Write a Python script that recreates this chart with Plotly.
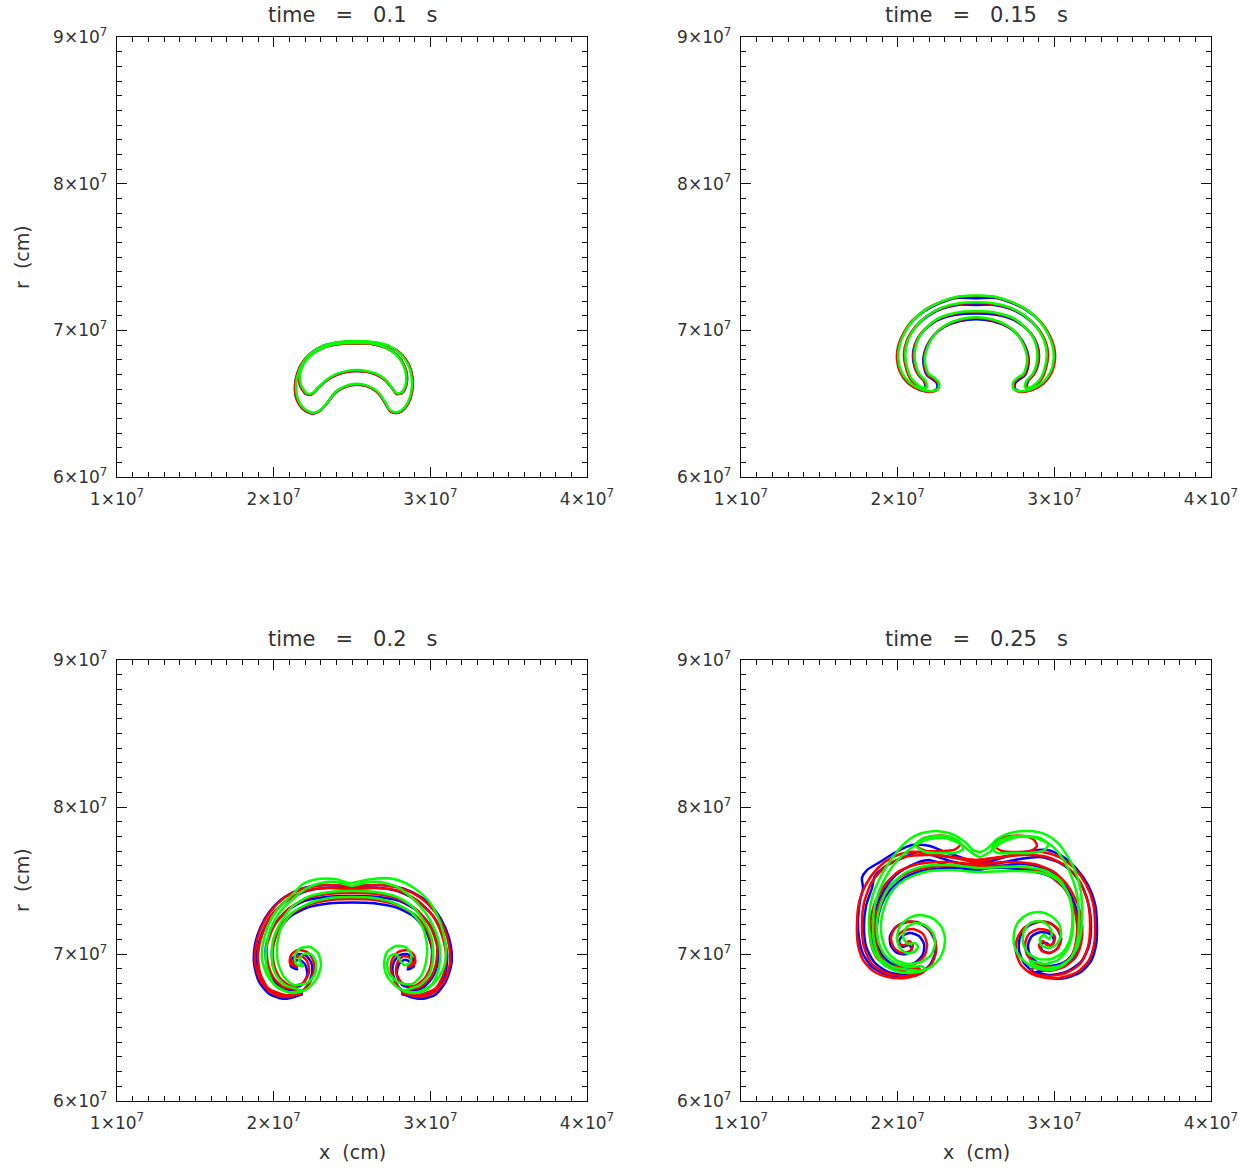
import plotly.graph_objects as go

UNIT = 1e7  # all coordinates below are in units of 1e7 cm
TIMES = ["0.1", "0.15", "0.2", "0.25"]
X_TICKS = [1, 2, 3, 4]
Y_TICKS = [6, 7, 8, 9]
X_RANGE = [1, 4]
Y_RANGE = [6, 9]

# ---------------- panel 1 : t = 0.1 s ----------------
P1_RED_C1 = [(2.206,6.566),(2.168,6.627),(2.162,6.695),(2.187,6.771),(2.245,6.839),(2.328,6.886),(2.423,6.907),
             (2.526,6.910),(2.628,6.907),(2.717,6.880),(2.787,6.832),(2.832,6.764),(2.851,6.689),(2.845,6.620),
             (2.819,6.573),(2.787,6.566),(2.755,6.607),(2.711,6.661),(2.647,6.702),(2.583,6.719),(2.526,6.723),
             (2.462,6.716),(2.398,6.695),(2.334,6.655),(2.283,6.607),(2.245,6.566)]
P1_RED_C2 = [(2.232,6.436),(2.181,6.470),(2.149,6.525),(2.136,6.593),(2.143,6.675),(2.174,6.764),(2.232,6.839),
             (2.315,6.893),(2.417,6.917),(2.526,6.924),(2.634,6.917),(2.736,6.893),(2.813,6.839),(2.864,6.764),
             (2.886,6.675),(2.883,6.580),(2.857,6.498),(2.819,6.450),(2.781,6.436),(2.743,6.450),(2.711,6.505),
             (2.672,6.566),(2.621,6.607),(2.564,6.627),(2.500,6.627),(2.443,6.607),(2.391,6.573),(2.347,6.511),
             (2.302,6.457),(2.264,6.436)]
P1_GREEN_C1 = [(2.212,6.570),(2.174,6.630),(2.168,6.697),(2.192,6.772),(2.249,6.840),(2.330,6.888),(2.424,6.910),
               (2.526,6.913),(2.627,6.910),(2.715,6.882),(2.783,6.833),(2.827,6.765),(2.846,6.690),(2.840,6.622),
               (2.815,6.577),(2.785,6.572),(2.753,6.612),(2.710,6.667),(2.647,6.708),(2.583,6.725),(2.526,6.729),
               (2.462,6.722),(2.398,6.701),(2.336,6.661),(2.286,6.612),(2.249,6.572)]
P1_GREEN_C2 = [(2.236,6.441),(2.187,6.474),(2.156,6.528),(2.143,6.595),(2.149,6.676),(2.179,6.765),(2.236,6.840),
               (2.318,6.895),(2.418,6.920),(2.526,6.927),(2.633,6.920),(2.734,6.895),(2.809,6.840),(2.859,6.765),
               (2.881,6.676),(2.878,6.582),(2.853,6.502),(2.816,6.455),(2.779,6.441),(2.743,6.456),(2.712,6.510),
               (2.674,6.571),(2.622,6.612),(2.564,6.633),(2.500,6.633),(2.443,6.613),(2.392,6.578),(2.349,6.516),
               (2.305,6.462),(2.268,6.441)]

# ---------------- panel 2 : t = 0.15 s ----------------
P2_RED_C1 = [(2.143,6.607),(2.085,6.661),(2.053,6.743),(2.040,6.839),(2.060,6.934),(2.111,7.023),(2.187,7.098),
             (2.283,7.152),(2.391,7.180),(2.500,7.186),(2.608,7.180),(2.717,7.152),(2.813,7.098),(2.889,7.023),
             (2.940,6.934),(2.960,6.839),(2.947,6.743),(2.915,6.661),(2.857,6.607),(2.819,6.607),(2.826,6.648),
             (2.870,6.702),(2.896,6.784),(2.896,6.866),(2.870,6.948),(2.819,7.016),(2.743,7.077),(2.628,7.115),
             (2.500,7.125),(2.372,7.115),(2.257,7.077),(2.181,7.016),(2.130,6.948),(2.104,6.866),(2.104,6.784),
             (2.130,6.702),(2.174,6.648),(2.181,6.607)]
P2_RED_C2 = [(2.219,6.580),(2.143,6.593),(2.066,6.641),(2.015,6.716),(1.996,6.798),(2.002,6.886),(2.034,6.975),
             (2.091,7.064),(2.174,7.139),(2.277,7.193),(2.385,7.227),(2.500,7.234),(2.615,7.227),(2.723,7.193),
             (2.826,7.139),(2.908,7.064),(2.966,6.975),(2.998,6.886),(3.004,6.798),(2.985,6.716),(2.934,6.641),
             (2.857,6.593),(2.781,6.580),(2.743,6.600),(2.743,6.641),(2.774,6.675),(2.806,6.695),(2.826,6.743),
             (2.832,6.811),(2.813,6.886),(2.768,6.968),(2.698,7.030),(2.602,7.071),(2.500,7.084),(2.398,7.071),
             (2.302,7.030),(2.232,6.968),(2.187,6.886),(2.168,6.811),(2.174,6.743),(2.194,6.695),(2.225,6.675),
             (2.257,6.641),(2.257,6.600)]
P2_BLUE_C1 = [(2.143,6.607),(2.088,6.661),(2.056,6.743),(2.044,6.839),(2.063,6.934),(2.113,7.023),(2.189,7.095),
              (2.284,7.148),(2.391,7.175),(2.500,7.172),(2.608,7.175),(2.716,7.148),(2.811,7.095),(2.887,7.023),
              (2.937,6.934),(2.956,6.839),(2.944,6.743),(2.912,6.661),(2.857,6.607),(2.823,6.612),(2.833,6.655),
              (2.874,6.706),(2.899,6.784),(2.899,6.866),(2.873,6.944),(2.821,7.010),(2.744,7.070),(2.628,7.106),
              (2.500,7.115),(2.372,7.106),(2.256,7.070),(2.179,7.010),(2.127,6.944),(2.101,6.866),(2.101,6.784),
              (2.126,6.706),(2.167,6.655),(2.177,6.612)]
P2_BLUE_C2 = [(2.219,6.582),(2.143,6.595),(2.068,6.641),(2.018,6.716),(2.000,6.798),(2.005,6.886),(2.037,6.975),
              (2.093,7.062),(2.176,7.136),(2.278,7.190),(2.386,7.222),(2.500,7.218),(2.614,7.222),(2.722,7.190),
              (2.824,7.136),(2.907,7.062),(2.963,6.975),(2.995,6.886),(3.000,6.798),(2.982,6.716),(2.932,6.641),
              (2.857,6.595),(2.781,6.582),(2.748,6.603),(2.750,6.640),(2.782,6.670),(2.812,6.692),(2.831,6.743),
              (2.836,6.811),(2.817,6.886),(2.771,6.965),(2.700,7.025),(2.602,7.064),(2.500,7.076),(2.398,7.064),
              (2.300,7.025),(2.229,6.965),(2.183,6.886),(2.164,6.811),(2.169,6.743),(2.188,6.692),(2.218,6.670),
              (2.250,6.640),(2.252,6.603)]
P2_GREEN_C1 = [(2.150,6.612),(2.093,6.664),(2.061,6.745),(2.048,6.840),(2.067,6.936),(2.117,7.026),(2.191,7.101),
               (2.285,7.156),(2.392,7.185),(2.500,7.191),(2.608,7.185),(2.715,7.156),(2.809,7.101),(2.883,7.026),
               (2.933,6.936),(2.952,6.840),(2.939,6.745),(2.907,6.664),(2.850,6.612),(2.813,6.612),(2.820,6.652),
               (2.863,6.705),(2.889,6.786),(2.889,6.867),(2.865,6.950),(2.815,7.019),(2.741,7.081),(2.627,7.120),
               (2.500,7.130),(2.373,7.120),(2.259,7.081),(2.185,7.019),(2.135,6.950),(2.111,6.867),(2.111,6.786),
               (2.137,6.705),(2.180,6.652),(2.187,6.612)]
P2_GREEN_C2 = [(2.225,6.585),(2.150,6.598),(2.074,6.645),(2.024,6.718),(2.005,6.799),(2.010,6.887),(2.041,6.977),
               (2.097,7.066),(2.178,7.141),(2.279,7.196),(2.386,7.230),(2.500,7.238),(2.614,7.230),(2.721,7.196),
               (2.822,7.141),(2.903,7.066),(2.959,6.977),(2.990,6.887),(2.995,6.799),(2.976,6.718),(2.926,6.645),
               (2.850,6.598),(2.775,6.585),(2.737,6.605),(2.737,6.645),(2.768,6.679),(2.800,6.700),(2.819,6.747),
               (2.826,6.813),(2.808,6.889),(2.764,6.972),(2.696,7.035),(2.601,7.076),(2.500,7.089),(2.399,7.076),
               (2.304,7.035),(2.236,6.972),(2.192,6.889),(2.174,6.813),(2.181,6.747),(2.200,6.700),(2.232,6.679),
               (2.263,6.645),(2.263,6.605)]

# ---------------- panel 3 : t = 0.2 s ----------------
P3_RED_A = [(2.500,7.374),(2.360,7.367),(2.219,7.333),(2.104,7.265),(2.028,7.163),(1.996,7.041),(2.002,6.925),
            (2.040,6.837),(2.111,6.782),(2.187,6.803),(2.226,6.878),(2.213,6.952),(2.174,6.986),(2.136,6.973),
            (2.123,6.939),(2.149,6.912),
            (2.104,6.939),(2.111,6.993),(2.155,7.027),(2.213,7.014),(2.251,6.959),(2.257,6.884),(2.226,6.796),
            (2.155,6.728),(2.066,6.707),(1.977,6.741),(1.913,6.823),(1.881,6.939),(1.887,7.061),(1.919,7.177),
            (1.977,7.286),(2.066,7.381),(2.181,7.442),(2.328,7.469),(2.500,7.463),(2.679,7.469),(2.826,7.442),
            (2.940,7.381),(3.030,7.286),(3.087,7.177),(3.119,7.061),(3.126,6.939),(3.094,6.823),(3.030,6.741),
            (2.940,6.707),(2.851,6.728),(2.781,6.796),(2.749,6.884),(2.755,6.959),(2.794,7.014),(2.851,7.027),
            (2.896,6.993),(2.902,6.939),(2.857,6.912),
            (2.883,6.939),(2.870,6.973),(2.832,6.986),(2.794,6.952),(2.781,6.878),(2.819,6.803),(2.896,6.782),
            (2.966,6.837),(3.004,6.925),(3.011,7.041),(2.979,7.163),(2.902,7.265),(2.787,7.333),(2.647,7.367)]
P3_RED_B = [(2.500,7.415),(2.347,7.408),(2.200,7.374),(2.085,7.299),(2.002,7.190),(1.957,7.054),(1.964,6.932),
            (1.996,6.844),(2.060,6.776),(2.143,6.755),
            (2.181,6.735),(2.072,6.721),(1.964,6.769),(1.913,6.871),(1.900,6.993),(1.926,7.129),(1.983,7.259),
            (2.079,7.361),(2.200,7.429),(2.347,7.449),(2.500,7.442),(2.653,7.449),(2.800,7.429),(2.921,7.361),
            (3.017,7.259),(3.074,7.129),(3.100,6.993),(3.087,6.871),(3.036,6.769),(2.928,6.721),(2.819,6.735),
            (2.857,6.755),(2.940,6.776),(3.004,6.844),(3.036,6.932),(3.043,7.054),(2.998,7.190),(2.915,7.299),
            (2.800,7.374),(2.653,7.408)]
P3_BLUE_A = [(2.500,7.350),(2.360,7.345),(2.215,7.315),(2.100,7.250),(2.025,7.150),(1.990,7.035),(1.995,6.920),
             (2.035,6.830),(2.105,6.775),(2.180,6.790),(2.215,6.860),(2.200,6.930),(2.165,6.960),(2.135,6.950),
             (2.125,6.915),(2.150,6.895),
             (2.110,6.915),(2.115,6.965),(2.155,7.000),(2.205,6.990),(2.240,6.940),(2.245,6.870),(2.215,6.785),
             (2.150,6.715),(2.060,6.695),(1.970,6.730),(1.905,6.815),(1.875,6.935),(1.880,7.060),(1.915,7.180),
             (1.975,7.290),(2.065,7.385),(2.180,7.445),(2.330,7.470),(2.500,7.460),(2.680,7.470),(2.830,7.445),
             (2.945,7.385),(3.035,7.290),(3.095,7.180),(3.130,7.060),(3.135,6.935),(3.100,6.815),(3.035,6.725),
             (2.945,6.695),(2.855,6.715),(2.790,6.785),(2.760,6.870),(2.765,6.940),(2.800,6.990),(2.850,7.000),
             (2.890,6.965),(2.895,6.915),(2.855,6.895),
             (2.875,6.915),(2.865,6.950),(2.835,6.960),(2.800,6.930),(2.785,6.860),(2.820,6.790),(2.895,6.775),
             (2.965,6.830),(3.005,6.920),(3.010,7.035),(2.975,7.150),(2.900,7.250),(2.785,7.315),(2.640,7.345)]
P3_BLUE_B = [(2.500,7.395),(2.345,7.390),(2.195,7.360),(2.080,7.290),(1.995,7.185),(1.950,7.050),(1.955,6.925),
             (1.990,6.835),(2.055,6.765),(2.140,6.745),
             (2.180,6.725),(2.065,6.710),(1.955,6.760),(1.905,6.865),(1.892,6.990),(1.920,7.125),(1.980,7.255),
             (2.075,7.355),(2.200,7.425),(2.350,7.450),(2.500,7.445),(2.650,7.450),(2.800,7.425),(2.925,7.355),
             (3.020,7.255),(3.080,7.125),(3.108,6.990),(3.095,6.865),(3.045,6.760),(2.935,6.710),(2.820,6.725),
             (2.860,6.745),(2.945,6.765),(3.010,6.835),(3.045,6.925),(3.050,7.050),(3.005,7.185),(2.920,7.290),
             (2.805,7.360),(2.655,7.390)]
P3_GREEN_A = [(2.500,7.388),(2.360,7.381),(2.232,7.347),(2.117,7.279),(2.047,7.177),(2.021,7.054),(2.028,6.939),
              (2.066,6.844),(2.130,6.789),(2.213,6.803),(2.264,6.864),(2.270,6.946),(2.238,7.000),(2.187,7.000),
              (2.162,6.959),(2.187,6.918),
              (2.143,6.932),(2.136,6.993),(2.174,7.041),(2.232,7.048),(2.283,7.007),(2.302,6.925),(2.277,6.837),
              (2.213,6.762),(2.117,6.735),(2.028,6.769),(1.964,6.844),(1.926,6.959),(1.932,7.075),(1.964,7.190),
              (2.021,7.299),(2.111,7.395),(2.187,7.476),(2.283,7.510),(2.391,7.510),(2.487,7.483),(2.589,7.503),
              (2.698,7.517),(2.794,7.503),(2.896,7.449),(2.985,7.367),(3.043,7.265),(3.081,7.150),(3.100,7.027),
              (3.087,6.912),(3.036,6.816),(2.960,6.748),(2.870,6.735),(2.787,6.776),(2.723,6.850),(2.704,6.932),
              (2.723,7.014),(2.781,7.054),(2.838,7.048),(2.877,7.000),(2.870,6.939),(2.832,6.925),
              (2.806,6.959),(2.781,7.000),(2.743,6.986),(2.723,6.932),(2.743,6.857),(2.806,6.803),(2.883,6.796),
              (2.940,6.850),(2.972,6.946),(2.979,7.054),(2.953,7.177),(2.883,7.279),(2.768,7.347),(2.640,7.381)]
P3_GREEN_B = [(2.500,7.429),(2.360,7.422),(2.219,7.388),(2.117,7.320),(2.047,7.218),(1.996,7.095),(1.989,6.959),
              (2.015,6.857),(2.072,6.789),(2.149,6.762),
              (2.187,6.748),(2.091,6.741),(2.002,6.796),(1.957,6.905),(1.951,7.027),(1.977,7.163),(2.040,7.286),
              (2.130,7.381),(2.226,7.456),(2.334,7.490),(2.430,7.483),(2.500,7.463),(2.577,7.483),(2.679,7.490),
              (2.787,7.456),(2.883,7.381),(2.966,7.286),(3.030,7.163),(3.062,7.027),(3.055,6.905),(3.011,6.796),
              (2.921,6.741),(2.826,6.748),
              (2.864,6.762),(2.934,6.789),(2.991,6.857),(3.017,6.959),(3.011,7.095),(2.960,7.218),(2.889,7.320),
              (2.787,7.388),(2.647,7.422)]

# ---------------- panel 4 : t = 0.25 s ----------------
P4_RED_A = [(2.500,7.599),(2.302,7.599),(2.143,7.578),(2.028,7.531),(1.938,7.449),(1.881,7.333),(1.855,7.197),
            (1.862,7.082),(1.894,6.980),(1.951,6.925),(2.040,6.912),(2.123,6.939),(2.174,6.993),(2.187,7.068),
            (2.162,7.136),(2.098,7.170),(2.034,7.156),(1.996,7.116),(2.009,7.068),(2.047,7.061),(2.072,7.088),
            (2.098,7.061),(2.079,7.020),(2.028,7.007),(1.977,7.041),(1.957,7.109),(1.983,7.177),(2.047,7.218),
            (2.123,7.218),(2.194,7.177),(2.238,7.102),(2.245,7.014),(2.213,6.925),(2.143,6.864),(2.047,6.837),
            (1.938,6.844),(1.843,6.884),(1.779,6.959),(1.747,7.061),(1.740,7.197),(1.753,7.347),(1.798,7.476),
            (1.874,7.585),(1.970,7.660),(2.079,7.694),(2.194,7.687),(2.302,7.667),(2.398,7.653),(2.500,7.639),
            (2.602,7.653),(2.698,7.667),(2.806,7.687),(2.921,7.694),(3.030,7.660),(3.126,7.585),(3.202,7.476),
            (3.247,7.347),(3.260,7.197),(3.253,7.061),(3.221,6.959),(3.157,6.884),(3.062,6.844),(2.953,6.837),
            (2.857,6.864),(2.787,6.925),(2.755,7.014),(2.762,7.102),(2.806,7.177),(2.877,7.218),(2.953,7.218),
            (3.017,7.177),(3.043,7.109),(3.023,7.041),(2.972,7.007),(2.921,7.020),(2.902,7.061),(2.928,7.088),
            (2.953,7.061),(2.991,7.068),(3.004,7.116),(2.966,7.156),(2.902,7.170),(2.838,7.136),(2.813,7.068),
            (2.826,6.993),(2.877,6.939),(2.960,6.912),(3.049,6.925),(3.106,6.980),(3.138,7.082),(3.145,7.197),
            (3.119,7.333),(3.062,7.449),(2.972,7.531),(2.857,7.578),(2.698,7.599)]
P4_RED_B = [(2.500,7.612),(2.302,7.626),(2.130,7.612),(2.002,7.558),(1.913,7.463),(1.849,7.333),(1.823,7.197),
            (1.830,7.068),(1.868,6.973),(1.938,6.912),(2.034,6.884),(2.130,6.905),
            (2.155,6.878),(2.047,6.850),(1.926,6.871),(1.836,6.932),(1.785,7.048),(1.772,7.197),(1.785,7.347),
            (1.836,7.490),(1.926,7.599),(2.047,7.660),(2.206,7.673),(2.366,7.653),(2.500,7.626),(2.634,7.653),
            (2.794,7.673),(2.953,7.660),(3.074,7.599),(3.164,7.490),(3.215,7.347),(3.228,7.197),(3.215,7.048),
            (3.164,6.932),(3.074,6.871),(2.953,6.850),(2.845,6.878),
            (2.870,6.905),(2.966,6.884),(3.062,6.912),(3.132,6.973),(3.170,7.068),(3.177,7.197),(3.151,7.333),
            (3.087,7.463),(2.998,7.558),(2.870,7.612),(2.698,7.626)]
P4_RED_EAR_L = [(2.123,7.735),(2.155,7.782),(2.226,7.803),(2.309,7.803),(2.372,7.776),(2.398,7.742),(2.360,7.708),
                (2.270,7.701),(2.181,7.701)]
P4_RED_EAR_R = [(2.609,7.742),(2.640,7.782),(2.717,7.803),(2.806,7.803),(2.870,7.776),(2.889,7.735),(2.851,7.701),
                (2.762,7.694),(2.666,7.701)]
P4_BLUE_A = [(2.500,7.585),(2.321,7.585),(2.155,7.565),(2.040,7.517),(1.951,7.435),(1.894,7.327),(1.868,7.197),
             (1.874,7.082),(1.906,6.986),(1.964,6.932),(2.047,6.918),(2.117,6.946),(2.162,7.000),(2.168,7.068),
             (2.136,7.122),(2.079,7.143),(2.028,7.122),(2.009,7.082),(2.034,7.048),(2.072,7.061),
             (2.091,7.034),(2.053,7.000),(1.996,7.007),(1.957,7.054),(1.951,7.122),(1.989,7.184),(2.060,7.218),
             (2.136,7.211),(2.200,7.163),(2.238,7.088),(2.238,7.000),(2.200,6.918),(2.123,6.864),(2.034,6.844),
             (1.932,6.857),(1.836,6.912),(1.779,7.000),(1.753,7.109),(1.747,7.231),(1.760,7.367),(1.779,7.449),
             (1.772,7.517),(1.804,7.571),(1.887,7.626),(1.989,7.694),(2.091,7.742),(2.206,7.735),(2.302,7.694),
             (2.398,7.660),(2.500,7.619),(2.621,7.639),(2.730,7.673),(2.845,7.701),(2.953,7.708),(3.049,7.667),
             (3.138,7.585),(3.215,7.469),(3.260,7.340),(3.272,7.197),(3.266,7.061),(3.234,6.952),(3.170,6.878),
             (3.074,6.837),(2.972,6.837),(2.877,6.871),(2.806,6.939),(2.774,7.027),(2.781,7.116),(2.826,7.184),
             (2.896,7.218),(2.972,7.211),(3.023,7.163),(3.043,7.095),(3.017,7.034),(2.966,7.007),(2.921,7.027),
             (2.915,7.068),
             (2.947,7.075),(2.979,7.054),(2.998,7.095),(2.972,7.136),(2.915,7.150),(2.857,7.122),(2.832,7.061),
             (2.845,6.993),(2.896,6.939),(2.972,6.918),(3.055,6.939),(3.113,6.993),(3.145,7.088),(3.151,7.204),
             (3.126,7.333),(3.068,7.442),(2.979,7.524),(2.857,7.565),(2.685,7.585)]
P4_BLUE_B = [(2.500,7.571),(2.334,7.599),(2.194,7.639),(2.079,7.599),(1.983,7.531),(1.913,7.435),(1.862,7.313),
             (1.836,7.177),(1.843,7.054),(1.881,6.966),(1.951,6.912),(2.040,6.891),(2.117,6.905),
             (2.130,6.878),(2.040,6.857),(1.938,6.878),(1.849,6.946),(1.798,7.054),(1.785,7.190),(1.798,7.327),
             (1.836,7.449),(1.855,7.531),(1.926,7.599),(2.028,7.653),(2.130,7.694),(2.219,7.673),(2.334,7.633),
             (2.500,7.599),(2.653,7.619),(2.781,7.646),(2.909,7.660),(3.023,7.626),(3.113,7.558),(3.183,7.449),
             (3.221,7.327),(3.234,7.190),(3.221,7.054),(3.170,6.946),(3.074,6.878),(2.972,6.857),(2.883,6.878),
             (2.960,6.891),(3.049,6.912),(3.119,6.966),(3.157,7.054),(3.164,7.177),(3.138,7.313),(3.087,7.435),
             (3.011,7.531),(2.909,7.592),(2.781,7.612),(2.653,7.599)]
P4_GREEN_A = [(2.513,7.558),(2.334,7.571),(2.174,7.558),(2.053,7.510),(1.970,7.435),(1.919,7.333),(1.894,7.218),
              (1.900,7.109),(1.932,7.020),(1.989,6.959),(2.066,6.932),(2.149,6.946),(2.213,6.993),(2.238,7.068),
              (2.226,7.143),(2.174,7.197),(2.111,7.211),(2.053,7.177),(2.034,7.116),(2.066,7.068),(2.111,7.075),
              (2.130,7.048),(2.104,7.014),(2.053,7.007),(2.009,7.048),(1.996,7.116),(2.015,7.190),(2.072,7.245),
              (2.143,7.265),(2.219,7.245),(2.277,7.190),(2.302,7.109),(2.289,7.014),(2.245,6.939),(2.174,6.891),
              (2.085,6.871),(1.989,6.884),(1.906,6.932),(1.849,7.014),(1.823,7.122),(1.817,7.245),(1.836,7.381),
              (1.887,7.517),(1.957,7.639),(2.034,7.742),(2.123,7.810),(2.238,7.837),(2.347,7.816),(2.430,7.762),
              (2.481,7.708),(2.526,7.694),(2.577,7.721),(2.634,7.782),(2.717,7.823),(2.832,7.837),(2.940,7.816),
              (3.023,7.755),(3.087,7.660),(3.138,7.551),(3.170,7.422),(3.177,7.286),(3.170,7.150),(3.145,7.041),
              (3.094,6.959),(3.023,6.905),(2.940,6.891),(2.851,6.918),(2.781,6.980),(2.743,7.061),(2.743,7.150),
              (2.774,7.224),(2.832,7.272),(2.909,7.286),(2.979,7.259),(3.030,7.204),(3.043,7.129),(3.017,7.068),
              (2.966,7.041),(2.915,7.061),(2.909,7.109),
              (2.934,7.129),(2.966,7.102),(2.985,7.143),(2.960,7.197),(2.909,7.224),(2.845,7.211),(2.806,7.156),
              (2.800,7.075),(2.832,7.007),(2.896,6.966),(2.979,6.966),(3.049,7.007),(3.094,7.082),(3.113,7.184),
              (3.113,7.299),(3.087,7.415),(3.023,7.503),(2.921,7.551),(2.717,7.565)]
P4_GREEN_B = [(2.513,7.585),(2.334,7.605),(2.174,7.599),(2.047,7.551),(1.951,7.463),(1.894,7.347),(1.868,7.218),
              (1.874,7.095),(1.913,7.000),(1.983,6.939),(2.072,6.912),(2.155,6.918),
              (2.174,6.891),(2.079,6.891),(1.970,6.912),(1.887,6.973),(1.849,7.082),(1.843,7.218),(1.862,7.367),
              (1.913,7.503),(1.989,7.626),(2.079,7.714),(2.181,7.776),(2.302,7.789),(2.411,7.742),(2.474,7.687),
              (2.526,7.660),(2.589,7.694),(2.660,7.755),(2.762,7.796),(2.883,7.789),(2.985,7.735),(3.062,7.633),
              (3.119,7.503),(3.151,7.367),(3.157,7.218),(3.145,7.082),(3.106,6.973),(3.030,6.918),(2.934,6.905),
              (2.857,6.932),
              (2.845,6.952),(2.940,6.932),(3.023,6.959),(3.081,7.027),(3.113,7.129),(3.119,7.265),(3.094,7.395),
              (3.036,7.503),(2.947,7.565),(2.813,7.592),(2.672,7.592)]
P4_GREEN_EAR_L = [(2.111,7.742),(2.155,7.782),(2.238,7.803),(2.334,7.796),(2.398,7.762),(2.417,7.714),(2.366,7.687),
                  (2.270,7.687),(2.174,7.694)]
P4_GREEN_EAR_R = [(2.602,7.714),(2.640,7.762),(2.717,7.796),(2.813,7.803),(2.909,7.789),(2.960,7.748),(2.940,7.708),
                  (2.845,7.687),(2.730,7.687),(2.640,7.687)]

BLUE, RED, GREEN = "#0000ff", "#ff0000", "#00ff00"

PANELS = [
    [(BLUE, P1_RED_C2), (BLUE, P1_RED_C1), (RED, P1_RED_C2), (RED, P1_RED_C1),
     (GREEN, P1_GREEN_C2), (GREEN, P1_GREEN_C1)],
    [(BLUE, P2_BLUE_C2), (BLUE, P2_BLUE_C1), (RED, P2_RED_C2), (RED, P2_RED_C1),
     (GREEN, P2_GREEN_C2), (GREEN, P2_GREEN_C1)],
    [(BLUE, P3_BLUE_A), (BLUE, P3_BLUE_B), (RED, P3_RED_A), (RED, P3_RED_B),
     (GREEN, P3_GREEN_A), (GREEN, P3_GREEN_B)],
    [(BLUE, P4_BLUE_A), (BLUE, P4_BLUE_B), (RED, P4_RED_A), (RED, P4_RED_B),
     (RED, P4_RED_EAR_L), (RED, P4_RED_EAR_R),
     (GREEN, P4_GREEN_A), (GREEN, P4_GREEN_B), (GREEN, P4_GREEN_EAR_L), (GREEN, P4_GREEN_EAR_R)],
]

W, H = 1260, 1170
X_DOMAINS = [(117 / W, 587 / W), (741 / W, 1211 / W), (117 / W, 587 / W), (741 / W, 1211 / W)]
Y_DOMAINS = [(1 - 477 / H, 1 - 37 / H), (1 - 477 / H, 1 - 37 / H),
             (1 - 1101 / H, 1 - 660 / H), (1 - 1101 / H, 1 - 660 / H)]

FONT = "DejaVu Sans, Liberation Sans, sans-serif"
fig = go.Figure()

for i, curves in enumerate(PANELS):
    ax = "" if i == 0 else str(i + 1)
    for color, pts in curves:
        closed = list(pts) + [pts[0]]
        fig.add_trace(go.Scatter(
            x=[p[0] * UNIT for p in closed], y=[p[1] * UNIT for p in closed],
            mode="lines", line=dict(color=color, width=2.5, shape="spline", smoothing=0.7),
            xaxis="x" + ax, yaxis="y" + ax, showlegend=False, hoverinfo="skip"))

def tick_text(v):
    return f"{v}×10<sup>7</sup>"

common = dict(showgrid=False, zeroline=False, showline=True, linecolor="#111", linewidth=1.4,
              mirror="allticks", ticks="inside", ticklen=10, tickwidth=1, tickcolor="#111",
              automargin=False,
              minor=dict(dtick=0.1 * UNIT, ticks="inside", ticklen=5, tickcolor="#111", tickwidth=1),
              tickfont=dict(family=FONT, size=17, color="#333"))

layout = dict(width=W, height=H, margin=dict(l=0, r=0, t=0, b=0, autoexpand=False),
              paper_bgcolor="white", plot_bgcolor="white", showlegend=False)
for i in range(4):
    ax = "" if i == 0 else str(i + 1)
    layout["xaxis" + ax] = dict(common, domain=list(X_DOMAINS[i]), anchor="y" + ax,
                                range=[X_RANGE[0] * UNIT, X_RANGE[1] * UNIT],
                                tickvals=[v * UNIT for v in X_TICKS],
                                ticktext=[tick_text(v) for v in X_TICKS], ticklabelstandoff=6)
    layout["yaxis" + ax] = dict(common, domain=list(Y_DOMAINS[i]), anchor="x" + ax,
                                range=[Y_RANGE[0] * UNIT, Y_RANGE[1] * UNIT],
                                tickvals=[v * UNIT for v in Y_TICKS],
                                ticktext=[tick_text(v) for v in Y_TICKS], ticklabelstandoff=5)
fig.update_layout(**layout)

NB = "\u00a0"
ann = []
title_pos = [(352 / W, 1 - 15 / H), (976 / W, 1 - 15 / H), (352 / W, 1 - 639 / H), (976 / W, 1 - 639 / H)]
for t, (px, py) in zip(TIMES, title_pos):
    ann.append(dict(text=f"time{NB*3}={NB*3}{t}{NB*3}s", x=px, y=py, xref="paper", yref="paper",
                    showarrow=False, font=dict(family=FONT, size=21, color="#333"),
                    xanchor="center", yanchor="middle"))
for py in (1 - 257 / H, 1 - 880 / H):
    ann.append(dict(text=f"r{NB*2}(cm)", x=22 / W, y=py, xref="paper", yref="paper", textangle=-90,
                    showarrow=False, font=dict(family=FONT, size=19, color="#333"),
                    xanchor="center", yanchor="middle"))
for px in (352 / W, 976 / W):
    ann.append(dict(text=f"x{NB*2}(cm)", x=px, y=1 - 1152 / H, xref="paper", yref="paper",
                    showarrow=False, font=dict(family=FONT, size=19, color="#333"),
                    xanchor="center", yanchor="middle"))
fig.update_layout(annotations=ann)

fig.write_html("out.html", config={"displayModeBar": False},
               post_script="document.body.style.margin='0';document.body.style.overflow='hidden';")
